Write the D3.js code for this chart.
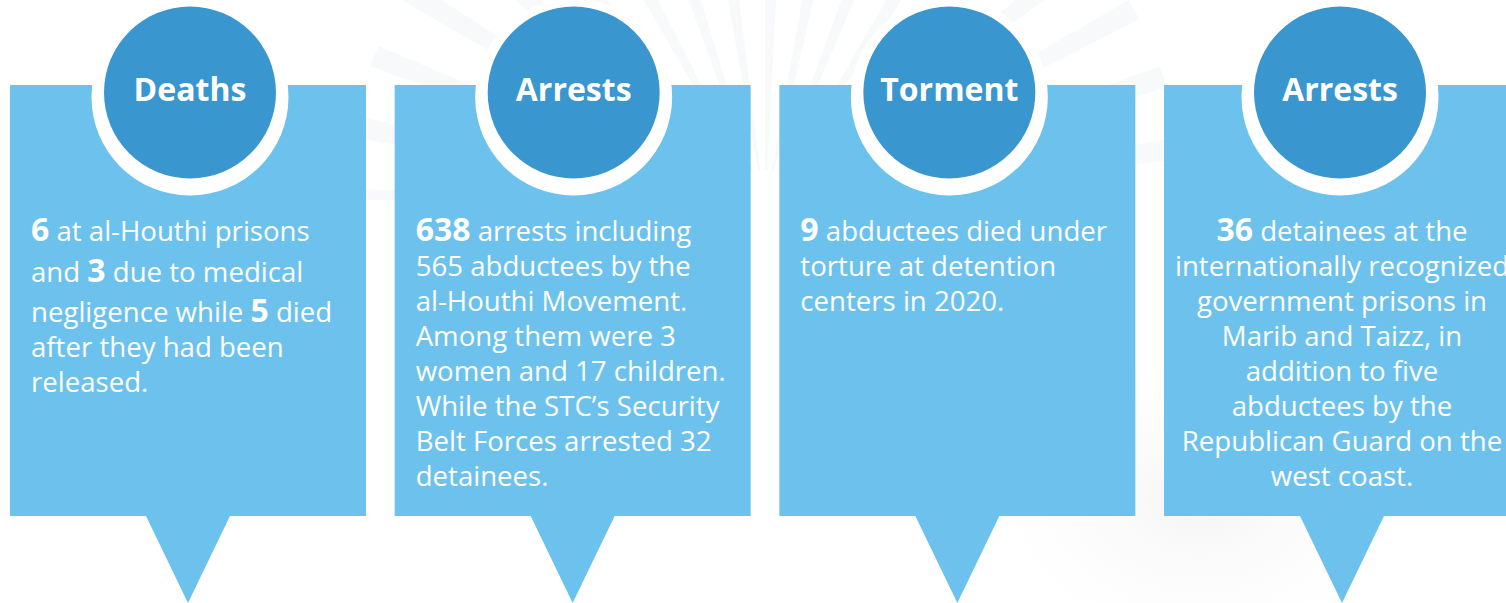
<!DOCTYPE html>
<html>
<head>
<meta charset="utf-8">
<script src="https://cdn.jsdelivr.net/npm/d3@7"></script>
<style>
  body { margin: 0; background: #fff; }
  svg { display: block; }
</style>
</head>
<body>
<svg></svg>
<script>
var width = 1506;
var height = 603;

// one entry per card
var titles = ["Deaths", "Arrests", "Torment", "Arrests"];

// **x** marks the bold figures
var bodies = [
  ["**6** at al-Houthi prisons",
   "and **3** due to medical",
   "negligence while **5** died",
   "after they had been",
   "released."],
  ["**638** arrests including",
   "565 abductees by the",
   "al-Houthi Movement.",
   "Among them were 3",
   "women and 17 children.",
   "While the STC\u2019s Security",
   "Belt Forces arrested 32",
   "detainees."],
  ["**9** abductees died under",
   "torture at detention",
   "centers in 2020."],
  ["**36** detainees at the",
   "internationally recognized",
   "government prisons in",
   "Marib and Taizz, in",
   "addition to five",
   "abductees by the",
   "Republican Guard on the",
   "west coast."]
];

var aligns = ["start", "start", "start", "middle"];
// badges aren't all exactly centred on their cards
var badgeShift = [2, 1, -8, -2];

var svg = d3.select("svg")
              .attr("width", width)
              .attr("height", height);

var defs = svg.append("defs");
defs.append("clipPath").attr("id", "topOnly")
  .append("rect").attr("x", 0).attr("y", 0).attr("width", width).attr("height", 200);

// faint sunburst, only shows in the gaps up top
var rays = svg.append("g")
                .attr("clip-path", "url(#topOnly)")
              .append("g")
                .attr("transform", "translate(765,210)");
d3.range(0, 36).forEach(function(i) {
  var a0 = i * Math.PI * 2 / 36;
  rays.append("path")
    .attr("d", d3.arc()({ innerRadius: 40, outerRadius: 420, startAngle: a0, endAngle: a0 + Math.PI / 60 }))
    .attr("fill", "#f1f5f8")
    .attr("opacity", 0.6);
});

// faint photo haze lower right
var grad = defs.append("radialGradient").attr("id", "haze");
grad.append("stop").attr("offset", "0%").attr("stop-color", "#f4f4f4");
grad.append("stop").attr("offset", "100%").attr("stop-color", "#ffffff").attr("stop-opacity", 0);
svg.append("ellipse")
  .attr("cx", 1200).attr("cy", 500)
  .attr("rx", 240).attr("ry", 170)
  .attr("fill", "url(#haze)");

var x = d3.scaleBand()
          .domain(d3.range(titles.length))
          .range([10, 1520])
          .paddingInner(0.0746)
          .paddingOuter(0);

var cardTop = 85, cardBottom = 516, tipY = 603, tipHalf = 42;

var cards = svg.selectAll("g.card")
                 .data(titles)
                 .enter()
                 .append("g")
                   .attr("class", "card")
                   .attr("transform", (d, i) => "translate(" + x(i) + ",0)");

var bw = x.bandwidth();

cards.append("path")
  .attr("d", "M0," + cardTop + "H" + bw + "V" + cardBottom + "H" + (bw / 2 + tipHalf) +
             "L" + (bw / 2) + "," + tipY + "L" + (bw / 2 - tipHalf) + "," + cardBottom + "H0Z")
  .attr("fill", "#6cc2ed");

cards.append("circle")
  .attr("cx", (d, i) => bw / 2 + badgeShift[i])
  .attr("cy", 97)
  .attr("r", 98.5)
  .attr("fill", "#ffffff");

cards.append("circle")
  .attr("cx", (d, i) => bw / 2 + badgeShift[i])
  .attr("cy", 92.5)
  .attr("r", 86)
  .attr("fill", "#3a96ce");

cards.append("text")
  .attr("x", (d, i) => bw / 2 + badgeShift[i])
  .attr("y", 101)
  .attr("text-anchor", "middle")
  .attr("font-family", "'Open Sans', 'Noto Sans', sans-serif")
  .attr("font-weight", "bold")
  .attr("font-size", 32)
  .attr("fill", "#ffffff")
  .text(d => d);

cards.each(function(d, i) {
  var g = d3.select(this);
  var anchor = aligns[i];
  var tx = anchor === "middle" ? bw / 2 : 21;
  var y = 241;
  bodies[i].forEach(function(line, j) {
    var hasBold = line.indexOf("**") >= 0;
    if (j > 0) y += (hasBold ? 40.5 : 35);
    var t = g.append("text")
               .attr("x", tx)
               .attr("y", y)
               .attr("text-anchor", anchor)
               .attr("font-family", "'Open Sans', 'Noto Sans', sans-serif")
               .attr("font-size", 27.6)
               .attr("fill", "#ffffff");
    line.split("**").forEach(function(part, k) {
      if (!part) return;
      var s = t.append("tspan").text(part);
      if (k % 2 === 1) s.attr("font-weight", "bold").attr("font-size", 32);
    });
  });
});
</script>
</body>
</html>
